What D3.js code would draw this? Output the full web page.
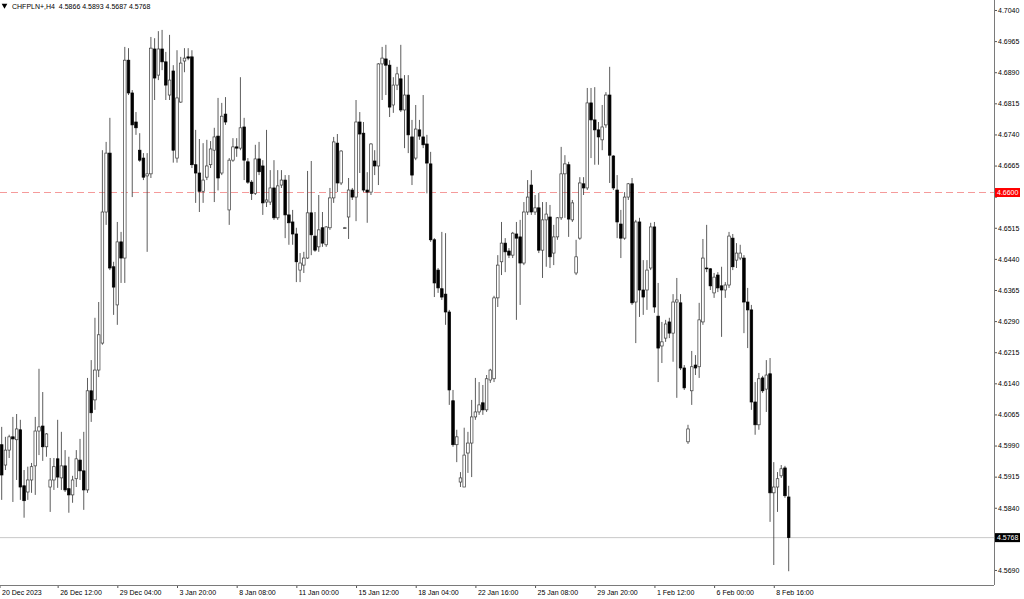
<!DOCTYPE html>
<html>
<head>
<meta charset="utf-8">
<script src="https://cdn.jsdelivr.net/npm/d3@7"></script>
<style>
  html, body { margin: 0; padding: 0; background: #ffffff; }
  svg { display: block; }
  text { font-family: "Liberation Sans", Arial, sans-serif; font-size: 7px; fill: #000; }
</style>
</head>
<body>
<div id="chart"></div>
<script>
// 1. Data (CHFPLN+ H4)

const symbolTitle = "CHFPLN+,H4  4.5866 4.5893 4.5687 4.5768"

const openPrices = [
  4.5992, 4.5943, 4.5979, 4.6011, 4.6004, 4.6028, 4.5893, 4.5878, 4.5907, 4.5941,
  4.6025, 4.6037, 4.5987, 4.5890, 4.5907, 4.5958, 4.5912, 4.5941, 4.5886, 4.5871,
  4.5910, 4.5955, 4.5929, 4.5883, 4.6122, 4.6100, 4.6172, 4.6237, 4.6553, 4.6695,
  4.6421, 4.6329, 4.6481, 4.6442, 4.6919, 4.6840, 4.6770, 4.6702, 4.6683, 4.6640,
  4.6645, 4.6946, 4.6883, 4.6946, 4.6915, 4.6835, 4.6893, 4.6683, 4.6818, 4.6917,
  4.6927, 4.6927, 4.6667, 4.6647, 4.6603, 4.6637, 4.6667, 4.6702, 4.6736, 4.6647,
  4.6789, 4.6558, 4.6678, 4.6710, 4.6707, 4.6758, 4.6674, 4.6625, 4.6598, 4.6681,
  4.6664, 4.6577, 4.6577, 4.6611, 4.6539, 4.6618, 4.6630, 4.6546, 4.6529, 4.6500,
  4.6413, 4.6425, 4.6442, 4.6551, 4.6495, 4.6469, 4.6515, 4.6474, 4.6515, 4.6587,
  4.6719, 4.6623, 4.6515, 4.6541, 4.6606, 4.6589, 4.6770, 4.6743, 4.6606, 4.6601,
  4.6676, 4.6664, 4.6910, 4.6922, 4.6907, 4.6811, 4.6859, 4.6874, 4.6799, 4.6835,
  4.6734, 4.6683, 4.6751, 4.6734, 4.6717, 4.6669, 4.6486, 4.6413, 4.6368, 4.6355,
  4.6312, 4.6098, 4.5992, 4.5902, 4.5890, 4.5972, 4.5996, 4.6059, 4.6071, 4.6093,
  4.6076, 4.6148, 4.6151, 4.6346, 4.6433, 4.6478, 4.6459, 4.6449, 4.6500, 4.6493,
  4.6430, 4.6553, 4.6618, 4.6553, 4.6563, 4.6461, 4.6534, 4.6541, 4.6454, 4.6493,
  4.6539, 4.6645, 4.6667, 4.6534, 4.6406, 4.6490, 4.6621, 4.6611, 4.6816, 4.6775,
  4.6751, 4.6727, 4.6763, 4.6835, 4.6688, 4.6606, 4.6524, 4.6490, 4.6589, 4.6621,
  4.6336, 4.6529, 4.6365, 4.6365, 4.6418, 4.6517, 4.6302, 4.6230, 4.6249, 4.6288,
  4.6261, 4.6336, 4.6334, 4.6177, 4.5999, 4.6122, 4.6184, 4.6180, 4.6288, 4.6418,
  4.6416, 4.6358, 4.6401, 4.6375, 4.6365, 4.6377, 4.6490, 4.6437, 4.6442, 4.6442,
  4.6336, 4.6317, 4.6095, 4.6040, 4.6153, 4.6126, 4.6163, 4.5876, 4.5890, 4.5917,
  4.5936, 4.5866
]

const highPrices = [
  4.6035, 4.6011, 4.6016, 4.6059, 4.6066, 4.6052, 4.5931, 4.5939, 4.5948, 4.6059,
  4.6175, 4.6119, 4.6020, 4.5960, 4.5960, 4.6052, 4.6023, 4.5979, 4.5963, 4.5917,
  4.5979, 4.6006, 4.6023, 4.6153, 4.6196, 4.6298, 4.6336, 4.6702, 4.6722, 4.6780,
  4.6433, 4.6529, 4.6505, 4.6951, 4.6948, 4.6847, 4.6794, 4.6743, 4.6695, 4.6695,
  4.6975, 4.6972, 4.6989, 4.6992, 4.6939, 4.6980, 4.6907, 4.6943, 4.6927, 4.6948,
  4.6948, 4.6943, 4.6751, 4.6729, 4.6719, 4.6727, 4.6724, 4.6756, 4.6828, 4.6816,
  4.6830, 4.6683, 4.6731, 4.6731, 4.6878, 4.6780, 4.6683, 4.6630, 4.6715, 4.6722,
  4.6678, 4.6751, 4.6654, 4.6678, 4.6654, 4.6654, 4.6642, 4.6642, 4.6558, 4.6515,
  4.6454, 4.6457, 4.6652, 4.6676, 4.6553, 4.6594, 4.6553, 4.6519, 4.6611, 4.6734,
  4.6741, 4.6702, 4.6517, 4.6635, 4.6611, 4.6823, 4.6794, 4.6770, 4.6649, 4.6719,
  4.6702, 4.6912, 4.6951, 4.6956, 4.6919, 4.6878, 4.6903, 4.6956, 4.6883, 4.6883,
  4.6775, 4.6811, 4.6775, 4.6835, 4.6739, 4.6698, 4.6490, 4.6418, 4.6505, 4.6502,
  4.6317, 4.6124, 4.6028, 4.5926, 4.6033, 4.6023, 4.6100, 4.6153, 4.6143, 4.6136,
  4.6160, 4.6175, 4.6351, 4.6449, 4.6529, 4.6490, 4.6466, 4.6505, 4.6529, 4.6534,
  4.6577, 4.6630, 4.6654, 4.6594, 4.6599, 4.6577, 4.6577, 4.6570, 4.6522, 4.6541,
  4.6710, 4.6690, 4.6674, 4.6582, 4.6486, 4.6637, 4.6637, 4.6852, 4.6852, 4.6854,
  4.6770, 4.6811, 4.6842, 4.6903, 4.6690, 4.6642, 4.6558, 4.6601, 4.6623, 4.6635,
  4.6534, 4.6539, 4.6437, 4.6437, 4.6527, 4.6529, 4.6382, 4.6288, 4.6293, 4.6298,
  4.6355, 4.6394, 4.6355, 4.6184, 4.6040, 4.6218, 4.6208, 4.6334, 4.6488, 4.6522,
  4.6418, 4.6406, 4.6408, 4.6421, 4.6384, 4.6505, 4.6500, 4.6478, 4.6474, 4.6449,
  4.6370, 4.6329, 4.6143, 4.6165, 4.6158, 4.6196, 4.6201, 4.5950, 4.5926, 4.5943,
  4.5941, 4.5893
]

const lowPrices = [
  4.5859, 4.5931, 4.5960, 4.5854, 4.5907, 4.5859, 4.5816, 4.5859, 4.5876, 4.5871,
  4.5967, 4.5953, 4.5963, 4.5830, 4.5883, 4.5888, 4.5883, 4.5878, 4.5828, 4.5852,
  4.5890, 4.5907, 4.5835, 4.5876, 4.6047, 4.6076, 4.6155, 4.6233, 4.6522, 4.6413,
  4.6305, 4.6281, 4.6382, 4.6382, 4.6835, 4.6589, 4.6739, 4.6674, 4.6630, 4.6457,
  4.6635, 4.6823, 4.6871, 4.6895, 4.6823, 4.6823, 4.6672, 4.6672, 4.6816, 4.6890,
  4.6919, 4.6659, 4.6575, 4.6553, 4.6575, 4.6630, 4.6659, 4.6577, 4.6605, 4.6642,
  4.6763, 4.6522, 4.6674, 4.6686, 4.6702, 4.6630, 4.6621, 4.6582, 4.6594, 4.6642,
  4.6546, 4.6565, 4.6570, 4.6534, 4.6534, 4.6611, 4.6490, 4.6474, 4.6474, 4.6384,
  4.6384, 4.6406, 4.6440, 4.6449, 4.6457, 4.6457, 4.6469, 4.6469, 4.6510, 4.6575,
  4.6601, 4.6618, 4.6512, 4.6488, 4.6582, 4.6531, 4.6647, 4.6601, 4.6527, 4.6594,
  4.6642, 4.6618, 4.6823, 4.6835, 4.6782, 4.6792, 4.6847, 4.6794, 4.6707, 4.6695,
  4.6618, 4.6678, 4.6727, 4.6707, 4.6598, 4.6481, 4.6348, 4.6358, 4.6341, 4.6281,
  4.6088, 4.5987, 4.5950, 4.5890, 4.5890, 4.5924, 4.5914, 4.6052, 4.6064, 4.6064,
  4.6071, 4.6141, 4.6143, 4.6324, 4.6401, 4.6408, 4.6442, 4.6442, 4.6293, 4.6329,
  4.6425, 4.6546, 4.6546, 4.6546, 4.6454, 4.6394, 4.6421, 4.6418, 4.6425, 4.6486,
  4.6534, 4.6539, 4.6493, 4.6529, 4.6401, 4.6486, 4.6594, 4.6606, 4.6683, 4.6667,
  4.6667, 4.6702, 4.6756, 4.6623, 4.6606, 4.6490, 4.6442, 4.6486, 4.6582, 4.6329,
  4.6237, 4.6300, 4.6305, 4.6317, 4.6413, 4.6310, 4.6143, 4.6189, 4.6240, 4.6249,
  4.6192, 4.6105, 4.6172, 4.6124, 4.5994, 4.6088, 4.6160, 4.6153, 4.6281, 4.6408,
  4.6365, 4.6346, 4.6360, 4.6252, 4.6346, 4.6370, 4.6413, 4.6418, 4.6437, 4.6261,
  4.6225, 4.6076, 4.6016, 4.6028, 4.6117, 4.6071, 4.5806, 4.5702, 4.5830, 4.5912,
  4.5864, 4.5687
]

const closePrices = [
  4.5919, 4.5979, 4.6011, 4.6006, 4.6030, 4.5890, 4.5857, 4.5907, 4.5939, 4.6025,
  4.6035, 4.5987, 4.6018, 4.5907, 4.5939, 4.5914, 4.5941, 4.5883, 4.5871, 4.5907,
  4.5958, 4.5929, 4.5883, 4.6122, 4.6069, 4.6172, 4.6257, 4.6553, 4.6695, 4.6418,
  4.6372, 4.6481, 4.6442, 4.6919, 4.6840, 4.6763, 4.6756, 4.6678, 4.6637, 4.6645,
  4.6948, 4.6876, 4.6946, 4.6915, 4.6859, 4.6871, 4.6702, 4.6828, 4.6912, 4.6924,
  4.6924, 4.6667, 4.6647, 4.6603, 4.6630, 4.6664, 4.6705, 4.6734, 4.6635, 4.6784,
  4.6770, 4.6678, 4.6710, 4.6707, 4.6756, 4.6678, 4.6625, 4.6598, 4.6681, 4.6650,
  4.6575, 4.6582, 4.6611, 4.6539, 4.6616, 4.6630, 4.6546, 4.6527, 4.6500, 4.6433,
  4.6430, 4.6442, 4.6551, 4.6498, 4.6461, 4.6510, 4.6478, 4.6517, 4.6587, 4.6722,
  4.6623, 4.6700, 4.6515, 4.6606, 4.6589, 4.6770, 4.6741, 4.6606, 4.6601, 4.6717,
  4.6664, 4.6910, 4.6924, 4.6907, 4.6806, 4.6859, 4.6886, 4.6799, 4.6835, 4.6739,
  4.6642, 4.6753, 4.6736, 4.6715, 4.6671, 4.6486, 4.6382, 4.6370, 4.6348, 4.6312,
  4.6124, 4.5992, 4.6011, 4.5912, 4.5967, 4.5996, 4.6059, 4.6071, 4.6088, 4.6076,
  4.6151, 4.6172, 4.6346, 4.6425, 4.6478, 4.6457, 4.6449, 4.6502, 4.6490, 4.6430,
  4.6553, 4.6589, 4.6553, 4.6563, 4.6461, 4.6534, 4.6548, 4.6445, 4.6493, 4.6539,
  4.6645, 4.6669, 4.6536, 4.6575, 4.6445, 4.6623, 4.6611, 4.6816, 4.6775, 4.6751,
  4.6734, 4.6758, 4.6835, 4.6690, 4.6611, 4.6529, 4.6490, 4.6589, 4.6621, 4.6334,
  4.6529, 4.6365, 4.6348, 4.6413, 4.6517, 4.6324, 4.6225, 4.6240, 4.6283, 4.6261,
  4.6336, 4.6341, 4.6177, 4.6129, 4.6030, 4.6180, 4.6177, 4.6293, 4.6442, 4.6416,
  4.6375, 4.6396, 4.6370, 4.6365, 4.6377, 4.6495, 4.6421, 4.6454, 4.6454, 4.6336,
  4.6317, 4.6095, 4.6040, 4.6151, 4.6122, 4.6160, 4.5876, 4.5890, 4.5910, 4.5934,
  4.5869, 4.5768
]

const timeLabels = [
  "20 Dec 2023", "26 Dec 12:00", "29 Dec 04:00", "3 Jan 20:00", "8 Jan 08:00",
  "11 Jan 00:00", "15 Jan 12:00", "18 Jan 04:00", "22 Jan 16:00", "25 Jan 08:00",
  "29 Jan 20:00", "1 Feb 12:00", "6 Feb 00:00", "8 Feb 16:00"
]
const barsPerLabel = 16

const priceTicks = [
  4.7040, 4.6965, 4.6890, 4.6815, 4.6740, 4.6665, 4.6590, 4.6515, 4.6440, 4.6365,
  4.6290, 4.6215, 4.6140, 4.6065, 4.5990, 4.5915, 4.5840, 4.5765, 4.5690
]

const levelPrice = 4.6600   // red dashed level
const bidPrice = 4.5768     // last price

const candles = openPrices.map((o, i) => ({
  i,
  open: o,
  high: highPrices[i],
  low: lowPrices[i],
  close: closePrices[i],
}))

// 2. Dimensions

const dimensions = {
  width: 1024,
  height: 599,
  plotRight: 994,
  plotBottom: 585,
}

// 3. Canvas

const wrapper = d3.select("#chart")
  .append("svg")
    .attr("width", dimensions.width)
    .attr("height", dimensions.height)

wrapper.append("rect")
  .attr("width", dimensions.width)
  .attr("height", dimensions.height)
  .attr("fill", "#ffffff")

// 4. Scales

const yScale = d3.scaleLinear()
  .domain([4.56538, 4.70641])
  .range([dimensions.plotBottom, 0])

const xScale = d3.scaleLinear()
  .domain([0, candles.length - 1])
  .range([1.7, 788.7])

// 5. Peripherals

const formatPrice = d3.format(".4f")

const yAxisGenerator = d3.axisRight(yScale)
  .tickValues(priceTicks)
  .tickFormat(formatPrice)
  .tickSize(3)
  .tickPadding(1)
const yAxis = wrapper.append("g")
  .attr("transform", `translate(${dimensions.plotRight}, 0)`)
  .call(yAxisGenerator)
yAxis.select(".domain").remove()
yAxis.selectAll(".tick line").attr("stroke", "#555")
yAxis.selectAll(".tick text")
  .attr("font-size", 7)
  .attr("font-family", "Liberation Sans, Arial, sans-serif")
  .attr("fill", "#000")
// tick labels that sit under the price badges are covered there
yAxis.selectAll(".tick text")
  .filter(d => Math.abs(yScale(d) - yScale(levelPrice)) < 9
            || Math.abs(yScale(d) - yScale(bidPrice)) < 9)
  .remove()

const timeIdx = timeLabels.map((d, k) => k * barsPerLabel - 1)
const xAxisGenerator = d3.axisBottom(xScale)
  .tickValues(timeIdx)
  .tickFormat((d, k) => timeLabels[k])
  .tickSize(3)
const xAxis = wrapper.append("g")
  .attr("transform", `translate(0, ${dimensions.plotBottom})`)
  .call(xAxisGenerator)
xAxis.select(".domain").remove()
xAxis.selectAll(".tick line").attr("stroke", "#555")
xAxis.selectAll(".tick text")
  .attr("text-anchor", "start")
  .attr("x", 2)
  .attr("y", 5)
  .attr("font-size", 7)
  .attr("font-family", "Liberation Sans, Arial, sans-serif")
  .attr("fill", "#000")
// first label sits against the left edge
xAxis.selectAll(".tick").filter((d, k) => k === 0)
  .attr("transform", `translate(0, 0)`)
  .select("text").attr("x", 2)

// frame (right and bottom)
wrapper.append("line")
  .attr("x1", dimensions.plotRight + 0.5)
  .attr("x2", dimensions.plotRight + 0.5)
  .attr("y1", 0)
  .attr("y2", dimensions.plotBottom)
  .attr("stroke", "#7a7a7a")
wrapper.append("line")
  .attr("x1", 0)
  .attr("x2", dimensions.plotRight)
  .attr("y1", dimensions.plotBottom + 0.5)
  .attr("y2", dimensions.plotBottom + 0.5)
  .attr("stroke", "#7a7a7a")

// level line + bid line
wrapper.append("line")
  .attr("x1", 0)
  .attr("x2", dimensions.plotRight)
  .attr("y1", yScale(levelPrice))
  .attr("y2", yScale(levelPrice))
  .attr("stroke", "#f59a9a")
  .attr("stroke-width", 1)
  .attr("stroke-dasharray", "7 4")

wrapper.append("line")
  .attr("x1", 0)
  .attr("x2", dimensions.plotRight)
  .attr("y1", yScale(bidPrice))
  .attr("y2", yScale(bidPrice))
  .attr("stroke", "#c8c8c8")
  .attr("stroke-width", 1)

// 6. Candles

const bounds = wrapper.append("g")
const bodyWidth = 2.6

const candleGroups = bounds.selectAll("g.candle")
  .data(candles)
  .join("g")
    .attr("class", "candle")

candleGroups.append("line")
  .attr("x1", d => xScale(d.i))
  .attr("x2", d => xScale(d.i))
  .attr("y1", d => yScale(Math.max(d.high, d.open, d.close)))
  .attr("y2", d => yScale(Math.min(d.low, d.open, d.close)))
  .attr("stroke", "#4a4a4a")
  .attr("stroke-width", 0.9)

candleGroups.append("rect")
  .attr("x", d => xScale(d.i) - bodyWidth / 2)
  .attr("width", bodyWidth)
  .attr("y", d => yScale(Math.max(d.open, d.close)))
  .attr("height", d => Math.max(0.8,
      yScale(Math.min(d.open, d.close)) - yScale(Math.max(d.open, d.close))))
  .attr("fill", d => d.close >= d.open ? "#ffffff" : "#000000")
  .attr("stroke", d => d.close >= d.open ? "#3a3a3a" : "#000000")
  .attr("stroke-width", 0.7)

// 7. Price labels on the axis

function priceBadge(price, bg) {
  const yy = yScale(price)
  wrapper.append("rect")
    .attr("x", dimensions.plotRight + 1)
    .attr("y", yy - 4.5)
    .attr("width", 25)
    .attr("height", 9)
    .attr("fill", bg)
  wrapper.append("text")
    .attr("x", dimensions.plotRight + 3)
    .attr("y", yy)
    .attr("dy", "0.35em")
    .attr("font-size", 7)
    .style("fill", "#ffffff")
    .text(formatPrice(price))
}
priceBadge(levelPrice, "#ff0000")
priceBadge(bidPrice, "#000000")

// 8. Header

wrapper.append("path")
  .attr("d", d3.symbol(d3.symbolTriangle, 14)())
  .attr("transform", "translate(4.5, 5.5) rotate(180)")
  .attr("fill", "#000")

wrapper.append("text")
  .attr("x", 12)
  .attr("y", 9)
  .style("white-space", "pre")
  .attr("xml:space", "preserve")
  .text(symbolTitle)
</script>
</body>
</html>
